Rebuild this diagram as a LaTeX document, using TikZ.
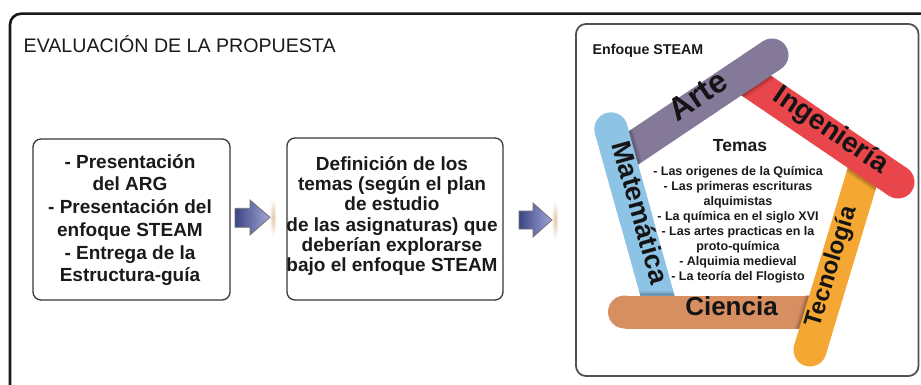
\documentclass[tikz,border=0pt]{standalone}
\usepackage{fontspec}
\setmainfont{Liberation Sans}
\usetikzlibrary{calc,shadings}
\definecolor{cBlue}{HTML}{8DC3E5}
\definecolor{cPurple}{HTML}{85799A}
\definecolor{cRed}{HTML}{E8464B}
\definecolor{cOrange}{HTML}{F5A733}
\definecolor{cBrown}{HTML}{D78F62}
\definecolor{cText}{HTML}{1A1A1A}
\definecolor{cArrowA}{HTML}{3C4684}
\definecolor{cArrowB}{HTML}{A2A6D8}
\newcommand{\fsz}[2]{\fontsize{#1}{#2}\selectfont}
\newcommand{\stickbody}[3]{%
  \draw[line width=33pt,#1] (#2) -- (#3);
  \fill[#1] (#3) circle (16.5pt);}
\newcommand{\stickshadow}[4]{%
  \begin{scope}
    \clip ($(#1)!16.5pt!90:(#2)$) -- ($(#1)!16.5pt!-90:(#2)$) -- ($(#2)!16.5pt!90:(#1)$) -- ($(#2)!16.5pt!-90:(#1)$) -- cycle;
    \draw[line width=42pt,black,opacity=.08] (#3) -- (#4);
    \draw[line width=38pt,black,opacity=.16] (#3) -- (#4);
  \end{scope}}
\tikzset{
  boxstyle/.style={draw=black!78,line width=1.3pt,rounded corners=8pt,fill=white},
  boxtext/.style={align=center,inner sep=0pt,text=cText,font=\bfseries\fsz{19}{#1}},
  sticklab/.style={inner sep=0pt,text=black!92,text height=.72em,text depth=.1em,font=\bfseries\fsz{#1}{#1}},
  arrowshape/.style={draw=black!55,line width=.8pt,left color=cArrowA,right color=cArrowB},
}
\begin{document}
\begin{tikzpicture}[x=1pt,y=-1pt]
\useasboundingbox (0,0) rectangle (921,385);
\clip (0,0) rectangle (921,385);
\fill[white] (0,0) rectangle (921,385);
% outer frame (cut by the page)
\draw[line width=2.6pt,black!90,rounded corners=11pt] (10,13.7) rectangle (960,430);
\node[anchor=west,inner sep=0pt,text=cText,font=\fsz{19.6}{22}] (title) at (23.5,44) {EVALUACIÓN DE LA PROPUESTA};
% left boxes
\node[boxstyle,minimum width=197pt,minimum height=161pt] (b1) at (131.5,219.5) {};
\node[boxtext=22.7] (t1) at (130,220) {- Presentación\\del ARG\\- Presentación del\\enfoque STEAM\\- Entrega de la\\Estructura-guía};
\node[boxstyle,minimum width=216pt,minimum height=162pt] (b2) at (395,219) {};
\node[boxtext=20.3] (t2) at (392,216) {Definición de los\\temas (según el plan\\de estudio\\de las asignaturas) que\\deberían explorarse\\bajo el enfoque STEAM};
% arrows
\shade[inner color=brown!45!white,outer color=white] (273,217.5) ellipse (3.5 and 20);
\shade[arrowshape] (235,208.3) -- (250,208.3) -- (250,200) -- (270,217.3) -- (250,235) -- (250,227.3) -- (235,227.3) -- cycle;
\shade[inner color=brown!45!white,outer color=white] (555,220) ellipse (3.5 and 20);
\shade[arrowshape] (519,211) -- (533,211) -- (533,203) -- (552,220) -- (533,237) -- (533,229) -- (519,229) -- cycle;
% right panel
\node[draw=black!68,line width=1.8pt,rounded corners=10pt,minimum width=342.5pt,minimum height=352pt,inner sep=0pt] (panel) at (747.25,200) {};
\node[anchor=west,inner sep=0pt,text=cText,font=\bfseries\fsz{14.2}{16}] (enf) at (592.5,51) {Enfoque STEAM};
% sticks
\coordinate (MB) at (662,312);
\coordinate (MT) at (611,129);
\coordinate (MM) at ($(MB)!0.5!(MT)$);
\coordinate (CR) at (821.4,312);
\coordinate (CL) at (624.5,312);
\coordinate (TT) at (867,161);
\coordinate (TB) at (810,350);
\coordinate (IL) at (741.4,75.5);
\coordinate (IR) at (898,182);
\coordinate (AL) at (619,157.6);
\coordinate (AR) at (772,55);
\stickbody{cBlue}{MB}{MT}
\stickshadow{MB}{MT}{CR}{CL}
\stickbody{cBrown}{CR}{CL}
\stickshadow{CR}{CL}{TT}{TB}
\stickbody{cOrange}{TT}{TB}
\stickshadow{TT}{TB}{IL}{IR}
\stickbody{cRed}{IL}{IR}
\stickshadow{IL}{IR}{AL}{AR}
\stickbody{cPurple}{AL}{AR}
\stickshadow{AL}{AR}{MB}{MT}
\stickbody{cBlue}{MM}{MT}
% stick labels
\node[sticklab=27,rotate=-74.4] (lM) at (634.7,214) {Matemática};
\node[sticklab=32,rotate=34] (lA) at (702,102) {Arte};
\node[sticklab=28,rotate=-34.2] (lI) at (828,134.5) {Ingeniería};
\node[sticklab=24,rotate=73.2] (lT) at (835,268) {Tecnología};
\node[sticklab=26] (lC) at (731.5,312) {Ciencia};
% topics
\node[inner sep=0pt,text=cText,font=\bfseries\fsz{17.5}{20}] (temas) at (740,146) {Temas};
\node[inner sep=0pt,align=center,text=cText,font=\bfseries\fsz{12.5}{15}] (topics) at (738,224.5) {- Las origenes de la Química\\- Las primeras escrituras\\alquimistas\\- La química en el siglo XVI\\- Las artes practicas en la\\proto-química\\- Alquimia medieval\\- La teoría del Flogisto};
\end{tikzpicture}
\end{document}
